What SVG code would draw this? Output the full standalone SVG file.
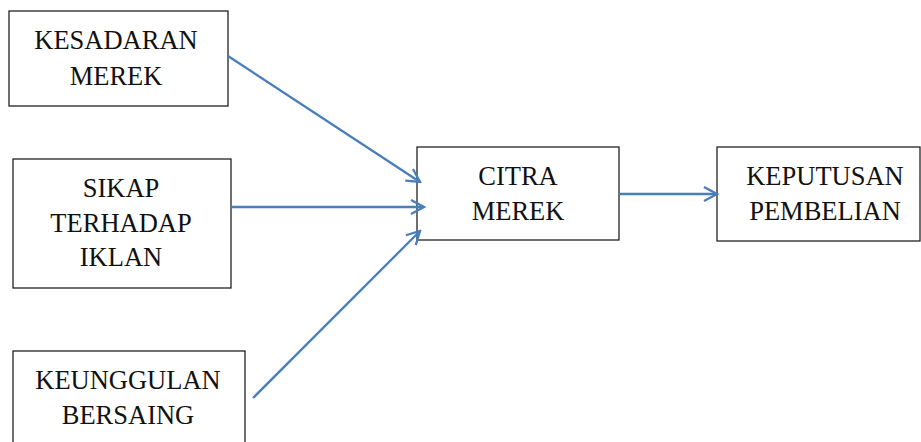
<svg xmlns="http://www.w3.org/2000/svg" width="921" height="442" viewBox="0 0 921 442">
<style>
.box{fill:#fff;stroke:#222;stroke-width:1.3}
.t{font-family:"Liberation Serif","DejaVu Serif",serif;font-size:26.5px;fill:#111;text-anchor:middle}
.c{stroke:#4a7ebb;stroke-width:2.3;fill:none}
</style>
<defs>
<marker id="ah" viewBox="0 0 16 16" refX="14" refY="8" markerWidth="16" markerHeight="16" markerUnits="userSpaceOnUse" orient="auto">
<polyline points="1,1 14,8 1,15" fill="none" stroke="#4a7ebb" stroke-width="2.3"/>
</marker>
</defs>
<rect width="921" height="442" fill="#fff"/>
<g id="n1"><rect class="box" x="9" y="11" width="219" height="95"/>
<text class="t" x="116" y="49">KESADARAN</text><text class="t" x="116" y="85">MEREK</text></g>
<g id="n2"><rect class="box" x="13" y="159" width="218" height="129"/>
<text class="t" x="121" y="197">SIKAP</text><text class="t" x="121" y="232">TERHADAP</text><text class="t" x="121" y="266">IKLAN</text></g>
<g id="n3"><rect class="box" x="13" y="351" width="232" height="100"/>
<text class="t" x="128" y="389">KEUNGGULAN</text><text class="t" x="128" y="424">BERSAING</text></g>
<g id="n4"><rect class="box" x="417" y="147" width="202" height="93"/>
<text class="t" x="518" y="185">CITRA</text><text class="t" x="518" y="220">MEREK</text></g>
<g id="n5"><rect class="box" x="717" y="147" width="203" height="94"/>
<text class="t" x="825" y="185">KEPUTUSAN</text><text class="t" x="825" y="220">PEMBELIAN</text></g>
<g id="connectors">
<line class="c" x1="228" y1="56" x2="420" y2="182" marker-end="url(#ah)"/>
<line class="c" x1="231" y1="207" x2="424" y2="207" marker-end="url(#ah)"/>
<line class="c" x1="253" y1="398" x2="420" y2="231" marker-end="url(#ah)"/>
<line class="c" x1="619" y1="194" x2="717" y2="194" marker-end="url(#ah)"/>
</g>
</svg>
